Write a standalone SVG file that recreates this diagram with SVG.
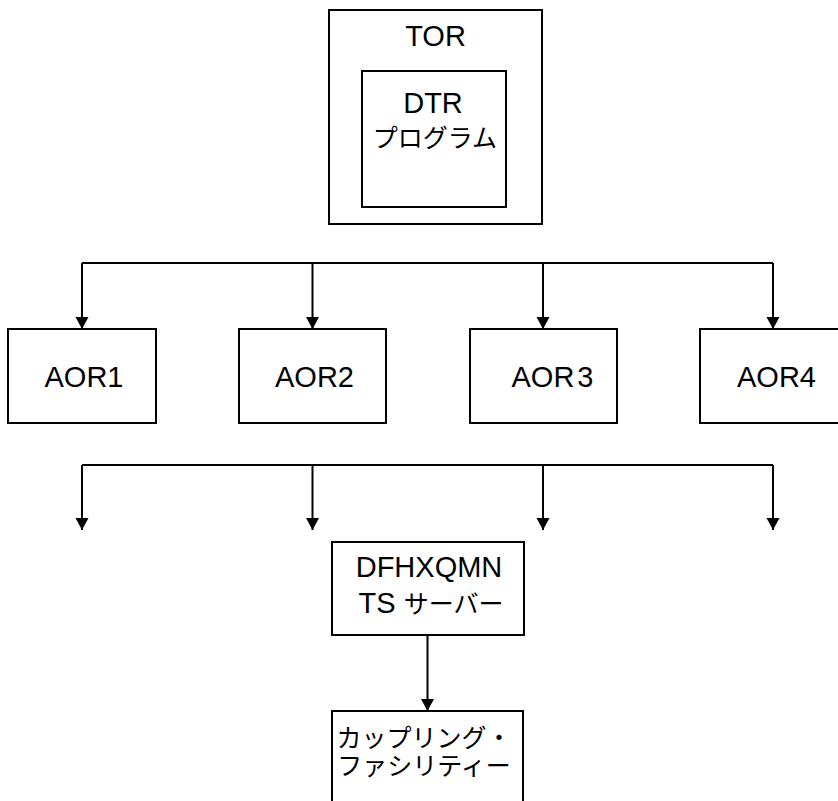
<svg xmlns="http://www.w3.org/2000/svg" width="838" height="801" viewBox="0 0 838 801">
<style>
.box{fill:#fff;stroke:#000;stroke-width:2}
.ln{fill:none;stroke:#000;stroke-width:2}
.t{font-family:"Liberation Sans","Noto Sans CJK JP",sans-serif;font-size:29px;fill:#000;text-anchor:middle}
.j{font-size:25px}
</style>
<defs>
<marker id="ah" markerUnits="userSpaceOnUse" markerWidth="13" markerHeight="14" refX="12" refY="7" orient="auto" viewBox="0 0 13 14">
<path d="M0,0.5 L12,7 L0,13.5 Z" fill="#000"/>
</marker>
</defs>
<rect width="838" height="801" fill="#fff"/>
<g id="tor">
<rect class="box" x="329" y="10" width="213" height="214"/>
<text class="t" x="435.5" y="46">TOR</text>
</g>
<g id="dtr">
<rect class="box" x="362" y="71" width="144" height="136"/>
<text class="t" x="433" y="113">DTR</text>
<text class="t j" x="435" y="147">プログラム</text>
</g>
<g id="connectors">
<path class="ln" d="M82,263 H773"/>
<path class="ln" d="M82,263 V329" marker-end="url(#ah)"/>
<path class="ln" d="M312.5,263 V329" marker-end="url(#ah)"/>
<path class="ln" d="M543,263 V329" marker-end="url(#ah)"/>
<path class="ln" d="M773,263 V329" marker-end="url(#ah)"/>
<path class="ln" d="M82,465 H773"/>
<path class="ln" d="M82,465 V530" marker-end="url(#ah)"/>
<path class="ln" d="M312.5,465 V530" marker-end="url(#ah)"/>
<path class="ln" d="M543,465 V530" marker-end="url(#ah)"/>
<path class="ln" d="M773,465 V530" marker-end="url(#ah)"/>
<path class="ln" d="M427.5,635 V711" marker-end="url(#ah)"/>
</g>
<g id="aor1">
<rect class="box" x="8" y="329" width="148" height="94"/>
<text class="t" x="84" y="387">AOR1</text>
</g>
<g id="aor2">
<rect class="box" x="239" y="329" width="147" height="94"/>
<text class="t" x="314.5" y="387">AOR2</text>
</g>
<g id="aor3">
<rect class="box" x="470" y="329" width="147" height="94"/>
<text class="t" x="552.5" y="387">AOR<tspan dx="3">3</tspan></text>
</g>
<g id="aor4">
<rect class="box" x="700" y="329" width="147" height="94"/>
<text class="t" x="776.5" y="387">AOR4</text>
</g>
<g id="dfhxqmn">
<rect class="box" x="332" y="542" width="192" height="93"/>
<text class="t" x="429" y="577">DFHXQMN</text>
<text class="t" x="431" y="613">TS <tspan class="j">サーバー</tspan></text>
</g>
<g id="cf">
<rect class="box" x="332" y="711" width="191" height="100"/>
<text class="t j" x="424" y="747">カップリング・</text>
<text class="t j" x="424" y="775">ファシリティー</text>
</g>
</svg>
